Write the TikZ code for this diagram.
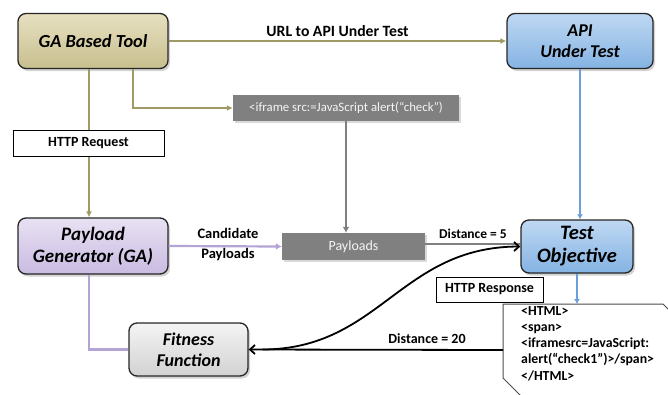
\documentclass[tikz,border=0pt]{standalone}
\usepackage{fontspec}
\setmainfont{Carlito}
\usetikzlibrary{arrows.meta,shadows,calc}
\definecolor{olive}{HTML}{A09B66}
\definecolor{purp}{HTML}{B4A4D6}
\definecolor{bluel}{HTML}{6A9FDB}
\definecolor{grayl}{HTML}{808080}
\definecolor{tantop}{HTML}{E6E0C0}
\definecolor{tanbot}{HTML}{C8BF8E}
\definecolor{bluetop}{HTML}{BFD8F2}
\definecolor{bluebot}{HTML}{84B3E3}
\definecolor{purtop}{HTML}{E8E1F2}
\definecolor{purbot}{HTML}{C9BBE2}
\definecolor{grtop}{HTML}{F4F4F4}
\definecolor{grbot}{HTML}{D2D2D2}
\tikzset{
  rbox/.style={draw=black!85, line width=1.3pt, rounded corners=8pt, align=center,
    font=\fontsize{18}{21}\selectfont\bfseries\itshape, inner sep=2pt,
    drop shadow={opacity=0.35, shadow xshift=2pt, shadow yshift=-2.5pt}},
  tanbox/.style={rbox, top color=tantop, bottom color=tanbot},
  bluebox/.style={rbox, top color=bluetop, bottom color=bluebot},
  purpbox/.style={rbox, top color=purtop, bottom color=purbot},
  graybox/.style={rbox, top color=grtop, bottom color=grbot},
  labbox/.style={draw=black, line width=0.9pt, fill=white, font=\fontsize{14}{16}\selectfont\bfseries, inner sep=0pt},
  darkbox/.style={fill=grayl, text=white!92!gray, font=\fontsize{12.8}{15}\selectfont, inner sep=0pt,
    drop shadow={opacity=0.3, shadow xshift=1.5pt, shadow yshift=-2pt}},
  lab/.style={font=\fontsize{14}{16}\selectfont\bfseries, inner sep=0pt},
  oarrow/.style={draw=olive, line width=1.6pt, -{Latex[length=6pt,width=6pt]}},
  parrow/.style={draw=purp, line width=2.2pt, -{Latex[length=6pt,width=7pt]}},
  barrow/.style={draw=bluel, line width=2pt, -{Latex[length=5pt,width=6pt]}},
  garrow/.style={draw=grayl, line width=2pt, -{Latex[length=6pt,width=7pt]}},
  karrow/.style={draw=black, line width=1.8pt, -{Straight Barb[length=5pt,width=9pt]}},
}
\begin{document}
\begin{tikzpicture}[x=1pt,y=-1pt]
\useasboundingbox (0,0) rectangle (668,394);
\begin{scope}
\clip (0,0) rectangle (668,394);
% HTML document box
\coordinate (htmltop) at (503,304);
\coordinate (htmlleft) at (503,350);
\fill[white] (503,304) -- (663,304) -- (680,321) -- (680,400) -- (525,400) -- (503,378) -- cycle;
\draw[black!70, line width=1pt] (680,321) -- (663,304) -- (503,304) -- (503,378) -- (525,400);
\end{scope}
\node[font=\fontsize{13.8}{16.25}\selectfont\bfseries, align=left, anchor=north west, inner sep=0pt] (html) at (521,306)
 {<HTML>\\<span>\\<iframesrc=JavaScript:\\alert(“check1”)>/span>\\</HTML>};

% main boxes
\node[tanbox, minimum width=150pt, minimum height=55pt, font=\fontsize{18.4}{21}\selectfont\bfseries\itshape] (ga) at (93,41) {GA Based Tool};
\node[bluebox, minimum width=146pt, minimum height=55pt] (api) at (580,41) {API\\Under Test};
\node[purpbox, minimum width=150pt, minimum height=56pt, font=\fontsize{19}{22}\selectfont\bfseries\itshape] (pg) at (93,246) {Payload\\Generator (GA)};
\node[bluebox, minimum width=112pt, minimum height=53pt, font=\fontsize{20.5}{23}\selectfont\bfseries\itshape] (to) at (577,246.5) {Test\\Objective};
\node[graybox, minimum width=119pt, minimum height=53pt] (ff) at (188.5,349.5) {Fitness\\Function};

\node[darkbox, minimum width=226pt, minimum height=26pt] (ifr) at (346,108) {<iframe src:=JavaScript alert(“check”)};
\node[darkbox, minimum width=143pt, minimum height=27pt, font=\fontsize{14}{16}\selectfont] (pl) at (353.5,246.5) {Payloads};

% connectors
\draw[oarrow] (ga.east) -- node[lab, above=4pt, font=\fontsize{15.7}{18}\selectfont\bfseries] {URL to API Under Test} (api.west);
\draw[oarrow] ([xshift=40pt]ga.south) |- (ifr.west);
\draw[oarrow] ([xshift=-4pt]ga.south) -- ([xshift=-4pt]pg.north);
\node[labbox, minimum width=151pt, minimum height=26pt] (httpreq) at (88.5,143) {HTTP Request};

\draw[garrow] (ifr.south) -- (ifr.south |- pl.north);
\draw[parrow] (pg.east) -- (pl.west);
\node[lab, align=center, font=\fontsize{14.5}{20}\selectfont\bfseries] (cand) at (228,245) {Candidate\\Payloads};
\draw[draw=grayl, line width=2pt] ([yshift=3pt]pl.east) -- ([yshift=3pt]pl.east -| to.west);
\draw[purp, line width=2.2pt] ([xshift=-4pt]pg.south) |- (ff.west);

\draw[barrow] (api.south) -- (api.south |- to.north);
\draw[barrow] (to.south) -- (to.south |- htmltop);
\node[labbox, minimum width=107pt, minimum height=25pt] (httpresp) at (489.5,289.5) {HTTP Response};

\draw[karrow] (htmlleft) -- (ff.east);
\draw[karrow] ([xshift=14pt]ff.east) .. controls (380,349) and (400,247) .. (to.west);
\node[lab, font=\fontsize{13.5}{16}\selectfont\bfseries] (d5) at (473,234) {Distance = 5};
\node[lab] (d20) at (427,339) {Distance = 20};
\end{tikzpicture}
\end{document}
